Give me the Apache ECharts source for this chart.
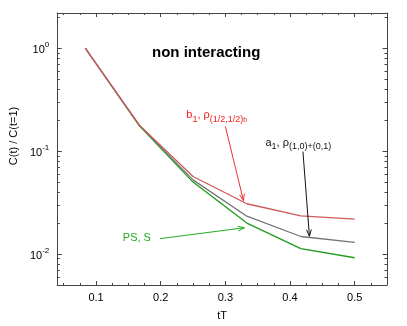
<!DOCTYPE html>
<html>
<head>
<meta charset="utf-8">
<script src="https://cdn.jsdelivr.net/npm/echarts@6/dist/echarts.min.js"></script>
<style>
  html, body { margin: 0; padding: 0; background: #fff; }
  #chart { width: 407px; height: 326px; }
</style>
</head>
<body>
<div id="chart"></div>
<script>
// tT values (1/12 ... 6/12)
const tT = [0.0833, 0.1667, 0.25, 0.3333, 0.4167, 0.5];
// C(t)/C(t=1) per channel
const b1Rho = [1, 0.180, 0.0567, 0.0308, 0.0235, 0.0218];
const a1Rho = [1, 0.179, 0.0526, 0.0233, 0.0148, 0.0130];
const psS = [1, 0.177, 0.0500, 0.0200, 0.0113, 0.0092];

const xMajor = [0.1, 0.2, 0.3, 0.4, 0.5];
const xMinor = [0.05, 0.075, 0.125, 0.15, 0.175, 0.225, 0.25, 0.275, 0.325, 0.35, 0.375,
  0.425, 0.45, 0.475, 0.525];
const yMajor = [0.01, 0.1, 1];
const yMinor = [0.005, 0.006, 0.007, 0.008, 0.009, 0.02, 0.03, 0.04, 0.05, 0.06, 0.07, 0.08, 0.09,
  0.2, 0.3, 0.4, 0.5, 0.6, 0.7, 0.8, 0.9, 2];

// annotations, in data coordinates: [x0, y0, x1, y1]
const arrowB = [0.300, 0.174, 0.328, 0.033];
const arrowA = [0.420, 0.099, 0.430, 0.0149];
const arrowPS = [0.199, 0.0141, 0.3295, 0.0180];
const labelB = [0.2396, 0.216];
const labelA = [0.362, 0.116];
const labelPS = [0.1414, 0.01375];

const FONT = '"Liberation Sans", Arial, Helvetica, sans-serif';
const FRAME = '#444';

const chart = echarts.init(document.getElementById('chart'));

function zip(xs, ys) {
  return xs.map((x, i) => [x, ys[i]]);
}

function tickAxis(pos, type, range, ticks, len, withLine) {
  const ax = {
    type: type,
    position: pos,
    min: range[0],
    max: range[1],
    axisLine: {show: withLine, lineStyle: {color: FRAME, width: 1}},
    axisTick: {show: true, inside: true, length: len, customValues: ticks,
      lineStyle: {color: FRAME, width: 1}},
    axisLabel: {show: false},
    splitLine: {show: false}
  };
  if (type === 'log') ax.logBase = 10;
  return ax;
}

const xRange = [0.04, 0.55];
const yRange = [0.005, 2.2];

const xAxes = [
  {
    type: 'value', position: 'bottom', min: xRange[0], max: xRange[1],
    axisLine: {show: true, lineStyle: {color: FRAME, width: 1}},
    axisTick: {show: true, inside: true, length: 4, customValues: xMajor,
      lineStyle: {color: FRAME}},
    axisLabel: {show: true, customValues: xMajor, margin: 7, color: '#000',
      fontSize: 11, fontFamily: FONT, formatter: v => v.toFixed(1)},
    splitLine: {show: false},
    name: 'tT', nameLocation: 'middle', nameGap: 25,
    nameTextStyle: {color: '#000', fontSize: 11, fontFamily: FONT}
  },
  tickAxis('bottom', 'value', xRange, xMinor, 2, false),
  tickAxis('top', 'value', xRange, xMajor, 4, true),
  tickAxis('top', 'value', xRange, xMinor, 2, false)
];

const yAxes = [
  {
    type: 'log', logBase: 10, position: 'left', min: yRange[0], max: yRange[1],
    axisLine: {show: true, lineStyle: {color: FRAME, width: 1}},
    axisTick: {show: true, inside: true, length: 4.5, customValues: yMajor,
      lineStyle: {color: FRAME}},
    axisLabel: {
      show: true, customValues: yMajor, margin: 8, color: '#000',
      formatter: v => '{b|10}{s|' + Math.round(Math.log10(v)) + '}',
      rich: {
        b: {fontSize: 11, fontFamily: FONT, color: '#000', lineHeight: 14, verticalAlign: 'bottom'},
        s: {fontSize: 8, fontFamily: FONT, color: '#000', lineHeight: 9, verticalAlign: 'top'}
      }
    },
    splitLine: {show: false},
    name: 'C(t) / C(t=1)', nameLocation: 'middle', nameGap: 28, nameRotate: 90,
    nameTextStyle: {color: '#000', fontSize: 11, fontFamily: FONT, padding: [0, 0, 0, 26]}
  },
  tickAxis('left', 'log', yRange, yMinor, 2.5, false),
  tickAxis('right', 'log', yRange, yMajor, 4.5, true),
  tickAxis('right', 'log', yRange, yMinor, 2.5, false)
];

function lineSeries(name, ys, color) {
  return {
    name: name, type: 'line', data: zip(tT, ys),
    xAxisIndex: 0, yAxisIndex: 0,
    showSymbol: false, symbol: 'none',
    lineStyle: {color: color, width: 1.3}, itemStyle: {color: color},
    z: 3
  };
}

function arrowSeries(seg, color) {
  return {
    type: 'custom', xAxisIndex: 0, yAxisIndex: 0, silent: true, z: 4,
    data: [seg],
    renderItem: (params, api) => {
      const p0 = api.coord([api.value(0), api.value(1)]);
      const p1 = api.coord([api.value(2), api.value(3)]);
      const ang = Math.atan2(p1[1] - p0[1], p1[0] - p0[0]);
      const L = 7, w = 0.35;
      const h1 = [p1[0] - L * Math.cos(ang - w), p1[1] - L * Math.sin(ang - w)];
      const h2 = [p1[0] - L * Math.cos(ang + w), p1[1] - L * Math.sin(ang + w)];
      return {
        type: 'group',
        children: [
          {type: 'line', shape: {x1: p0[0], y1: p0[1], x2: p1[0], y2: p1[1]},
            style: {stroke: color, lineWidth: 1}},
          {type: 'polyline', shape: {points: [h1, p1, h2]},
            style: {stroke: color, fill: null, lineWidth: 1}}
        ]
      };
    }
  };
}

function labelSeries(pt, text, color) {
  return {
    type: 'custom', xAxisIndex: 0, yAxisIndex: 0, silent: true, z: 5,
    data: [pt],
    renderItem: (params, api) => {
      const p = api.coord([api.value(0), api.value(1)]);
      return {
        type: 'text', x: p[0], y: p[1],
        style: {
          text: text, fill: color, align: 'left', verticalAlign: 'middle',
          fontSize: 11, fontFamily: FONT,
          rich: {
            m: {fontSize: 11, fontFamily: FONT, fill: color, lineHeight: 14, verticalAlign: 'top'},
            s: {fontSize: 9, fontFamily: FONT, fill: color, lineHeight: 10, verticalAlign: 'bottom',
              padding: [5, 0, 0, 0]},
            ss: {fontSize: 7, fontFamily: FONT, fill: color, lineHeight: 8, verticalAlign: 'bottom',
              padding: [9, 0, 0, 0]}
          }
        }
      };
    }
  };
}

chart.setOption({
  animation: false,
  backgroundColor: '#fff',
  title: {
    text: 'non interacting', left: 152, top: 45, padding: 0,
    textStyle: {fontSize: 15, fontWeight: 'bold', color: '#000', fontFamily: FONT}
  },
  grid: {left: 49, right: 20, top: 13, bottom: 38, containLabel: false},
  xAxis: xAxes,
  yAxis: yAxes,
  series: [
    lineSeries('PS, S', psS, '#1f9a1f'),
    lineSeries('a1', a1Rho, '#747474'),
    lineSeries('b1', b1Rho, '#cc5a5a'),
    arrowSeries(arrowB, '#f03030'),
    arrowSeries(arrowA, '#111111'),
    arrowSeries(arrowPS, '#22aa22'),
    labelSeries(labelB, '{m|b}{s|1}{m|, ρ}{s|(1/2,1/2)}{ss|b}', '#ee2020'),
    labelSeries(labelA, '{m|a}{s|1}{m|, ρ}{s|(1,0)+(0,1)}', '#111111'),
    labelSeries(labelPS, '{m|PS, S}', '#22aa22')
  ]
});
</script>
</body>
</html>
